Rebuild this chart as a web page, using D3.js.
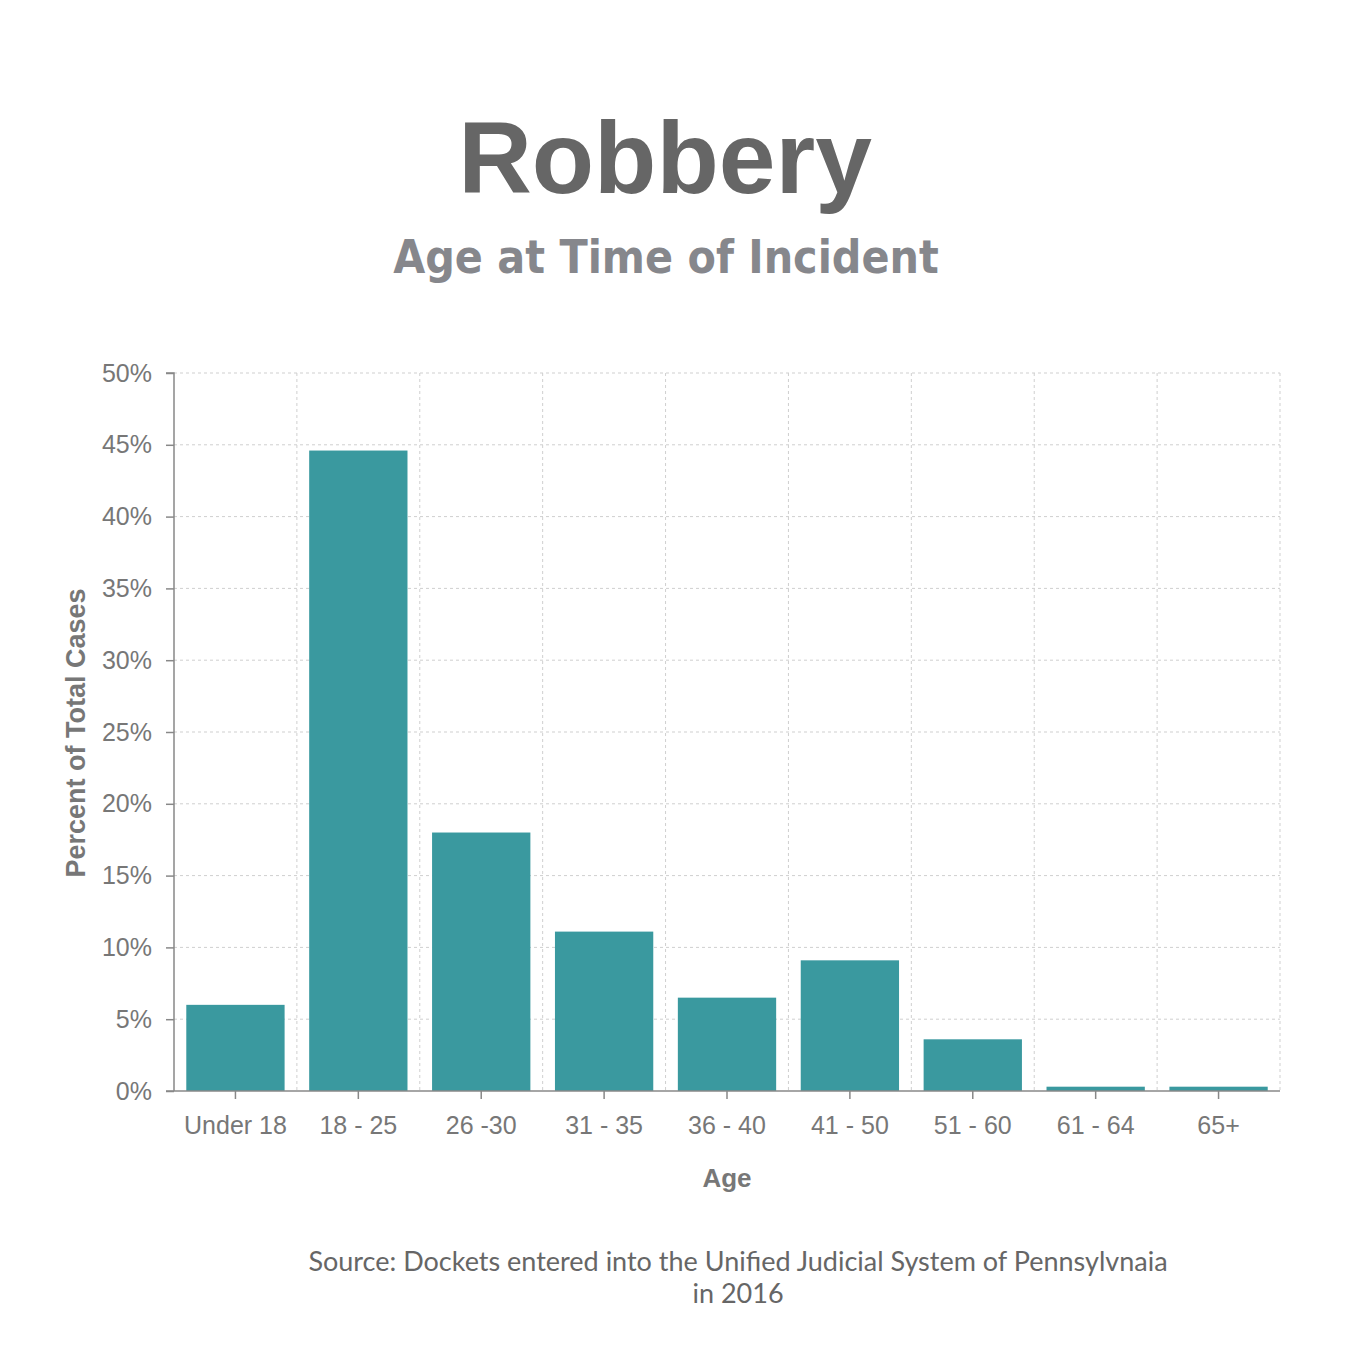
<!DOCTYPE html>
<html>
<head>
<title>Robbery</title>
<script src="https://d3js.org/d3.v7.min.js"></script>
<style>
  body { margin:0; background:#fff; }
  .tick text { font-family:"Liberation Sans", Arial, sans-serif; font-size:25px; fill:#777; }
</style>
</head>
<body>
<svg id="chart" width="1360" height="1360"></svg>
<script>
// age groups and share of total cases (%)
const ageGroups = ["Under 18", "18 - 25", "26 -30", "31 - 35", "36 - 40", "41 - 50", "51 - 60", "61 - 64", "65+"];
const percentCases = [6.0, 44.6, 18.0, 11.1, 6.5, 9.1, 3.6, 0.3, 0.3];
const yTicks = [0, 5, 10, 15, 20, 25, 30, 35, 40, 45, 50];

const svg = d3.select("#chart");
const m = {left:174, right:1280, top:373, bottom:1091};

const x = d3.scaleBand().domain(ageGroups).range([m.left, m.right]).paddingInner(0.2).paddingOuter(0.1);
const y = d3.scaleLinear().domain([0, 50]).range([m.bottom, m.top]);

svg.append("rect").attr("width",1360).attr("height",1360).attr("fill","#fff");

// title
svg.append("text").attr("x",665).attr("y",193).attr("text-anchor","middle")
  .style("font-family","'Liberation Sans', Arial, sans-serif").style("font-weight","bold")
  .style("font-size","102px").attr("fill","#666").text("Robbery");
svg.append("text").attr("x",666).attr("y",273).attr("text-anchor","middle")
  .style("font-family","'DejaVu Sans Condensed', 'DejaVu Sans', sans-serif").style("font-weight","bold")
  .style("font-stretch","condensed")
  .style("font-size","46px").attr("fill","#86878c").text("Age at Time of Incident");

// grid
const grid = svg.append("g");
grid.selectAll("line.h").data(yTicks.slice(1)).join("line")
  .attr("x1",m.left).attr("x2",m.right).attr("y1",d=>y(d)).attr("y2",d=>y(d))
  .attr("stroke","#cfcfcf").attr("stroke-dasharray","3,3");
const step = x.step();
grid.selectAll("line.v").data(ageGroups).join("line")
  .attr("x1",d=>x(d)+x.bandwidth()+step*0.1).attr("x2",d=>x(d)+x.bandwidth()+step*0.1)
  .attr("y1",m.top).attr("y2",m.bottom)
  .attr("stroke","#cfcfcf").attr("stroke-dasharray","3,3");

// bars
svg.selectAll("rect.bar").data(percentCases).join("rect")
  .attr("class","bar")
  .attr("x",(d,i)=>x(ageGroups[i]))
  .attr("width",x.bandwidth())
  .attr("y",d=>y(d))
  .attr("height",d=>y(0)-y(d))
  .attr("fill","#3a999f");

// axes
const yAxis = svg.append("g").attr("transform",`translate(${m.left},0)`)
  .call(d3.axisLeft(y).tickValues(yTicks).tickFormat(d=>d+"%").tickSize(8).tickPadding(14));
const xAxis = svg.append("g").attr("transform",`translate(0,${m.bottom})`)
  .call(d3.axisBottom(x).tickSize(8).tickPadding(14).tickSizeOuter(0));
[yAxis, xAxis].forEach(a => {
  a.select(".domain").attr("stroke","#888").attr("stroke-width",1.5);
  a.selectAll(".tick line").attr("stroke","#888").attr("stroke-width",1.5);
});
yAxis.select(".domain").attr("d",`M-8,${m.top}H0V${m.bottom}`);
xAxis.select(".domain").attr("d",`M${m.left-8},0H${m.right}`);
xAxis.selectAll(".tick text").attr("dy","0.85em");

// axis titles
svg.append("text").attr("x",727).attr("y",1187).attr("text-anchor","middle")
  .style("font-family","'Liberation Sans', Arial, sans-serif").style("font-weight","bold")
  .style("font-size","26px").attr("fill","#777").text("Age");
svg.append("text").attr("transform","translate(85,733) rotate(-90)").attr("text-anchor","middle")
  .style("font-family","'Liberation Sans', Arial, sans-serif").style("font-weight","bold")
  .style("font-size","27px").attr("fill","#777").text("Percent of Total Cases");

// source
const src = svg.append("text").attr("text-anchor","middle")
  .style("font-family","Lato, sans-serif").style("font-size","27px").attr("fill","#666");
src.append("tspan").attr("x",738).attr("y",1271).text("Source: Dockets entered into the Unified Judicial System of Pennsylvnaia");
src.append("tspan").attr("x",738).attr("y",1303).text("in 2016");
</script>
</body>
</html>
